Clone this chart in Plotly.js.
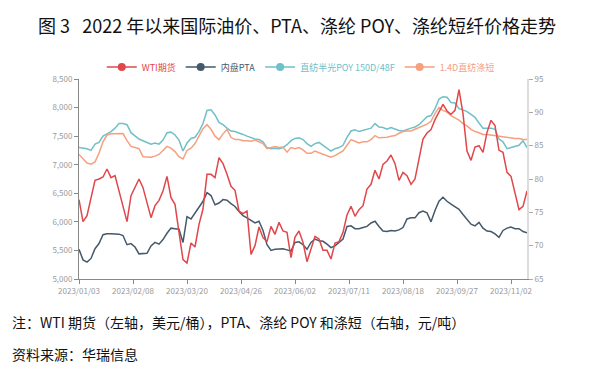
<!DOCTYPE html>
<html>
<head>
<meta charset="utf-8">
<script src="https://cdn.plot.ly/plotly-3.0.1.min.js"></script>
<style>
html,body{margin:0;padding:0;background:#fff;}
#chart{width:594px;height:369px;}
</style>
</head>
<body>
<div id="chart"></div>
<script>
// Category tick labels (one label every 27 trading days)
const dateLabels = ['2023/01/03','2023/02/08','2023/03/20','2023/04/26','2023/06/02','2023/07/11','2023/08/18','2023/09/27','2023/11/02'];
const labelEvery = 27;
const sampleStep = 2; // values read every 2 trading days

const seriesNames = ['WTI期货','内盘PTA','直纺半光POY 150D/48F','1.4D直纺涤短'];

// WTI futures (USD/bbl, right axis)
const wti = [76.9,73.6,74.5,77.3,79.8,80.0,80.3,81.5,80.2,80.5,
78.2,76.3,73.6,77.5,78.7,80.0,78.7,76.3,74.2,76.0,
76.8,78.2,80.4,77.2,76.2,72.0,67.9,67.4,70.4,69.8,
73.2,75.5,80.7,80.7,80.2,83.2,82.3,80.7,78.9,78.3,
75.2,74.8,75.2,68.7,70.0,72.8,71.2,70.6,72.9,71.7,
73.5,72.2,72.0,68.2,71.3,72.2,70.5,67.6,69.5,71.4,
71.0,69.3,69.3,68.0,70.4,70.6,72.0,74.6,75.9,74.4,
75.4,76.0,78.5,79.2,81.3,80.0,82.2,82.7,83.6,82.3,
79.8,81.0,80.5,79.2,80.0,83.2,86.0,86.9,87.4,88.9,
90.1,91.2,90.2,89.7,90.3,93.4,89.8,84.2,82.8,84.8,
85.0,84.0,87.0,88.8,88.0,84.3,84.0,81.0,80.4,78.0,
75.4,75.9,78.2];

// Domestic PTA (CNY/t, left axis)
const pta = [5520,5335,5295,5360,5530,5620,5775,5790,5790,5790,
5785,5760,5600,5620,5560,5440,5440,5450,5580,5640,
5610,5690,5800,5890,5880,5870,5640,6090,6050,6150,
6240,6360,6510,6460,6300,6330,6390,6380,6320,6270,
6180,6110,6070,6030,5980,6010,5850,5600,5500,5520,
5520,5530,5510,5490,5640,5650,5600,5520,5640,5700,
5670,5660,5610,5550,5580,5640,5700,5920,5930,5880,
5880,5900,5920,5980,6010,5920,5840,5830,5850,5840,
5860,5900,6050,6070,6070,6160,6190,6160,6000,6200,
6360,6430,6360,6310,6270,6220,6130,6040,5960,5930,
5990,5890,5840,5830,5790,5730,5850,5890,5910,5880,
5880,5830,5810];

// Semi-dull POY 150D/48F (CNY/t, left axis)
const poy = [7300,7290,7280,7250,7360,7390,7500,7540,7580,7640,
7720,7720,7700,7560,7500,7450,7420,7390,7360,7380,
7360,7430,7560,7570,7520,7430,7240,7380,7460,7480,
7580,7720,7950,7960,7870,7740,7700,7640,7590,7580,
7560,7530,7500,7470,7450,7440,7400,7300,7280,7290,
7280,7300,7350,7420,7460,7470,7440,7370,7320,7370,
7390,7340,7290,7240,7280,7300,7340,7480,7590,7610,
7580,7600,7620,7640,7720,7660,7650,7620,7650,7620,
7600,7590,7620,7640,7660,7700,7770,7840,7860,7980,
8150,8190,8180,8090,8080,7980,7960,7930,7880,7830,
7730,7640,7640,7640,7620,7450,7400,7280,7300,7320,
7340,7420,7300];

// 1.4D polyester staple fibre (CNY/t, left axis)
const psf = [7180,7110,7030,7010,7050,7200,7400,7520,7540,7540,
7545,7545,7420,7320,7300,7280,7140,7130,7130,7150,
7180,7250,7320,7290,7230,7140,7100,7250,7290,7370,
7500,7630,7700,7620,7500,7440,7540,7620,7480,7440,
7440,7420,7420,7410,7430,7400,7370,7280,7300,7320,
7300,7310,7220,7300,7280,7300,7260,7200,7200,7240,
7210,7180,7160,7130,7160,7200,7240,7340,7440,7410,
7380,7400,7400,7440,7510,7470,7470,7480,7500,7510,
7550,7580,7590,7590,7620,7650,7690,7710,7760,7900,
8000,7950,7920,7860,7820,7780,7720,7680,7620,7580,
7560,7530,7530,7520,7500,7490,7480,7470,7470,7460,
7460,7440,7440];

const colors = ['#e0474a','#44596b','#6fc0c7','#f5a07f'];
const font = '"Noto Sans CJK SC", "Noto Sans", sans-serif';

const xs = arr => arr.map((_, k) => k * sampleStep);

const seriesData = [wti, pta, poy, psf];
const traces = [];
seriesData.forEach((vals, s) => {
  traces.push({
    x: xs(vals), y: vals, type: 'scatter', mode: 'lines',
    yaxis: s === 0 ? 'y2' : 'y',
    line: {color: colors[s], width: 1.5},
    showlegend: false, hoverinfo: 'skip'
  });
});
// legend-only entries
seriesNames.forEach((nm, s) => {
  traces.push({
    x: [null], y: [null], type: 'scatter', mode: 'lines+markers',
    name: '<span style="color:' + colors[s] + '">' + nm + '</span>',
    line: {color: colors[s], width: 1.5},
    marker: {color: colors[s], size: 8},
    showlegend: true
  });
});

const layout = {
  width: 594, height: 369,
  margin: {l: 79, r: 67, t: 79, b: 90},
  paper_bgcolor: '#fff', plot_bgcolor: '#fff',
  font: {family: font, color: '#999'},
  title: {
    text: '图 3   2022 年以来国际油价、PTA、涤纶 POY、涤纶短纤价格走势',
    xref: 'container', x: 0.5, xanchor: 'center',
    yref: 'container', y: 1 - 27/369, yanchor: 'middle',
    font: {family: font, size: 18, color: '#111'}
  },
  showlegend: true,
  legend: {
    orientation: 'h', x: 0.495, xanchor: 'center', y: 1.06, yanchor: 'middle',
    font: {size: 9, family: font}, itemwidth: 30, bgcolor: 'rgba(0,0,0,0)',
    tracegroupgap: 0
  },
  xaxis: {
    range: [0, 224], showgrid: false, zeroline: false,
    tickmode: 'array',
    tickvals: dateLabels.map((_, k) => k * labelEvery),
    ticktext: dateLabels,
    ticks: 'outside', ticklen: 4, tickcolor: '#888',
    showline: true, linecolor: '#888', linewidth: 1,
    tickfont: {size: 8, color: '#999', family: font}
  },
  yaxis: {
    range: [5000, 8500], dtick: 500, tick0: 5000, tickformat: ',d',
    showgrid: false, zeroline: false,
    ticks: 'outside', ticklen: 4, tickcolor: '#888',
    showline: true, linecolor: '#888', linewidth: 1,
    tickfont: {size: 8, color: '#999', family: font}
  },
  yaxis2: {
    range: [65, 95], dtick: 5, tick0: 65, overlaying: 'y', side: 'right',
    showgrid: false, zeroline: false,
    ticks: 'outside', ticklen: 4, tickcolor: '#aaa',
    showline: true, linecolor: '#ddd', linewidth: 2,
    tickfont: {size: 8, color: '#999', family: font}
  },
  annotations: [
    {text: '注：WTI 期货（左轴，美元/桶），PTA、涤纶 POY 和涤短（右轴，元/吨）',
     xref: 'paper', yref: 'paper', x: (10 - 79) / 448, y: (279 - 322) / 200,
     xanchor: 'left', yanchor: 'middle', showarrow: false,
     font: {family: font, size: 14, color: '#111'}},
    {text: '资料来源：华瑞信息',
     xref: 'paper', yref: 'paper', x: (10 - 79) / 448, y: (279 - 354) / 200,
     xanchor: 'left', yanchor: 'middle', showarrow: false,
     font: {family: font, size: 14, color: '#111'}}
  ]
};

Plotly.newPlot('chart', traces, layout, {displayModeBar: false, staticPlot: true});
</script>
</body>
</html>
